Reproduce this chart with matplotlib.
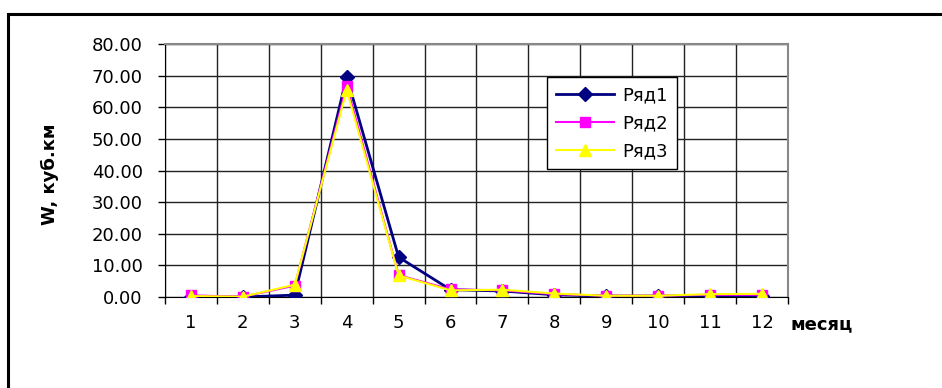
import matplotlib
matplotlib.use("Agg")
import matplotlib.pyplot as plt
from matplotlib.patches import Rectangle

months = [1, 2, 3, 4, 5, 6, 7, 8, 9, 10, 11, 12]
month_labels = ["1", "2", "3", "4", "5", "6", "7", "8", "9", "10", "11", "12"]
row1 = [0.1, 0.0, 0.6, 69.7, 12.6, 2.3, 1.9, 0.7, 0.3, 0.3, 0.2, 0.2]
row2 = [0.5, 0.1, 3.6, 66.8, 6.9, 2.4, 2.1, 0.9, 0.4, 0.4, 0.7, 0.7]
row3 = [0.3, 0.1, 3.9, 65.5, 6.8, 2.1, 2.3, 1.1, 0.4, 0.4, 0.9, 1.0]
series_names = ["Ряд1", "Ряд2", "Ряд3"]
yticks = [0, 10, 20, 30, 40, 50, 60, 70, 80]

plt.rcParams['font.family'] = ['DejaVu Sans']

fig = plt.figure(figsize=(9.42, 3.88), dpi=100)
W, H = 942, 388
ax = fig.add_axes([165 / W, 1 - 297 / H, (788 - 165) / W, (297 - 44) / H])

# outer frame (only left and top visible)
fig.patches.append(Rectangle((8 / W, -0.05), 1.2, (1 - 14 / H) + 0.05,
                             transform=fig.transFigure, fill=False,
                             edgecolor='black', linewidth=2.2, zorder=0))

ax.plot(months, row1, color='#000080', marker='D', markersize=7,
        linewidth=2.0, label=series_names[0], zorder=3)
ax.plot(months, row2, color='#FF00FF', marker='s', markersize=7,
        linewidth=1.5, label=series_names[1], zorder=4)
ax.plot(months, row3, color='#FFFF00', marker='^', markersize=9,
        linewidth=1.5, label=series_names[2], zorder=5)

ax.set_xlim(0.5, 12.5)
ax.set_ylim(0, 80)
ax.set_yticks(yticks)
ax.set_yticklabels([f"{v:.2f}" for v in yticks])
ax.set_xticks(months)
ax.set_xticklabels(month_labels)
ax.set_xticks([m + 0.5 for m in [0] + months], minor=True)

ax.tick_params(axis='x', which='major', length=0, pad=12, labelsize=13)
ax.tick_params(axis='x', which='minor', length=5, width=1, color='black', direction='out')
ax.tick_params(axis='y', which='major', length=5, width=1, color='black',
               direction='out', labelsize=13, pad=11)

ax.grid(True, which='minor', axis='x', color='#222222', linewidth=1.0)
ax.grid(True, which='major', axis='y', color='#222222', linewidth=1.0)
ax.set_axisbelow(True)

for side in ['top', 'right']:
    ax.spines[side].set_color('#888888')
    ax.spines[side].set_linewidth(1.5)
ax.spines['left'].set_color('black')
ax.spines['bottom'].set_color('black')

fig.text(50 / W, 1 - 174 / H, "W, куб.км", rotation=90, ha='center', va='center',
         fontsize=13, fontweight='bold')
fig.text(790 / W, 1 - 324 / H, "месяц", ha='left', va='center',
         fontsize=13, fontweight='bold')

leg = ax.legend(loc='upper left', bbox_to_anchor=(547 / W, 1 - 77 / H),
                bbox_transform=fig.transFigure, fontsize=13, frameon=True,
                fancybox=False, shadow=False, handlelength=3.2,
                labelspacing=0.55, borderpad=0.5, handletextpad=0.45,
                borderaxespad=0)
leg.get_frame().set_edgecolor('black')
leg.get_frame().set_linewidth(1.0)
leg.get_frame().set_alpha(1)

fig.savefig("out.png", dpi=100)
